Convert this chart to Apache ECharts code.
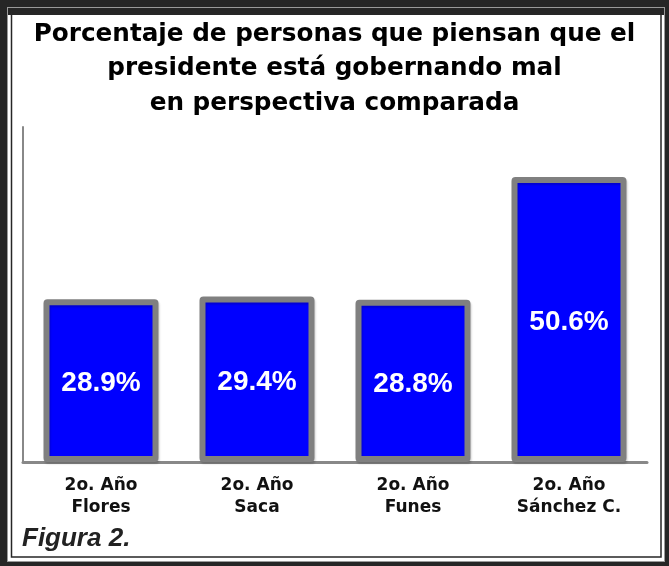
<!DOCTYPE html>
<html>
<head>
<meta charset="utf-8">
<script src="https://cdn.jsdelivr.net/npm/echarts@6/dist/echarts.min.js"></script>
<style>
html,body{margin:0;padding:0;background:#fff;}
#c{width:669px;height:566px;}
</style>
</head>
<body>
<div id="c"></div>
<script>
const titleLines = ["Porcentaje de personas que piensan que el", "presidente está gobernando mal", "en perspectiva comparada"];
const categories = ["2o. Año\nFlores", "2o. Año\nSaca", "2o. Año\nFunes", "2o. Año\nSánchez C."];
const values = [28.9, 29.4, 28.8, 50.6];
const figureLabel = "Figura 2.";

const chart = echarts.init(document.getElementById('c'), null, {renderer: 'canvas'});
const FONT = '"Liberation Sans", Arial, Helvetica, sans-serif';
const WIDE = '"DejaVu Sans", "Liberation Sans", Arial, sans-serif';
const dark = '#262626';

chart.setOption({
  backgroundColor: dark,
  animation: false,
  title: {
    text: titleLines.join('\n'),
    left: 'center',
    top: 12,
    textStyle: {
      fontFamily: WIDE,
      fontWeight: 'bold',
      fontSize: 24.7,
      lineHeight: 34.5,
      color: '#000'
    }
  },
  graphic: [
    {type: 'rect', z: -10, silent: true, shape: {x: 7, y: 7, width: 658, height: 555}, style: {fill: '#9a9a9a'}},
    {type: 'rect', z: -9, silent: true, shape: {x: 8, y: 8, width: 656, height: 553}, style: {fill: '#ffffff'}},
    {type: 'rect', z: -8, silent: true, shape: {x: 8, y: 8, width: 656, height: 7}, style: {fill: dark}},
    {type: 'rect', z: -8, silent: true, shape: {x: 11.5, y: 11.5, width: 649.5, height: 545.5}, style: {fill: 'none', stroke: dark, lineWidth: 1.5}},
    {type: 'text', z: 10, left: 22, top: 526, style: {text: figureLabel, font: 'italic bold 26px ' + FONT, fill: '#222'}}
  ],
  grid: {left: 23, right: 22, top: 127, bottom: 104, containLabel: false},
  xAxis: {
    type: 'category',
    data: categories,
    axisLine: {show: true, lineStyle: {color: '#888', width: 3}},
    axisTick: {show: false},
    axisLabel: {
      margin: 13,
      fontFamily: WIDE,
      fontWeight: 'bold',
      fontSize: 17,
      lineHeight: 22,
      color: '#111',
      interval: 0
    }
  },
  yAxis: {
    type: 'value',
    min: 0,
    max: 59.5,
    axisLine: {show: true, lineStyle: {color: '#888', width: 2}},
    axisTick: {show: false},
    axisLabel: {show: false},
    splitLine: {show: false}
  },
  series: [{
    type: 'bar',
    data: values,
    barWidth: 115,
    itemStyle: {
      color: '#0000ff',
      borderColor: '#808080',
      borderWidth: 6,
      borderRadius: 1,
      shadowColor: 'rgba(0,0,0,0.18)',
      shadowOffsetX: 1,
      shadowOffsetY: 2,
      shadowBlur: 2
    },
    label: {
      show: true,
      position: 'inside',
      formatter: p => p.value.toFixed(1) + '%',
      fontFamily: FONT,
      fontWeight: 'bold',
      fontSize: 28,
      color: '#fff',
      offset: [0, 3]
    }
  }]
});
</script>
</body>
</html>
